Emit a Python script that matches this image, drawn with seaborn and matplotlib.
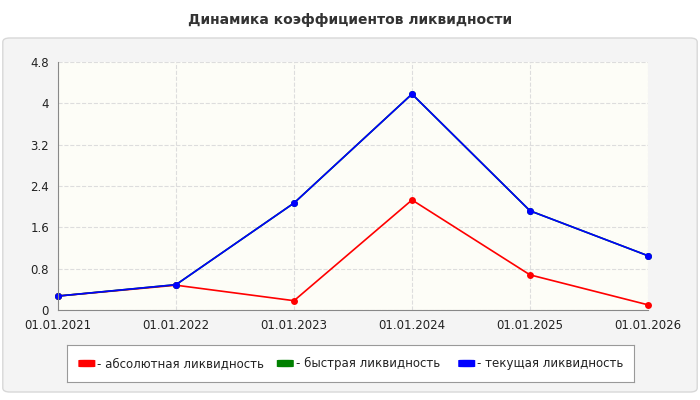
import matplotlib
matplotlib.use("Agg")
import matplotlib.pyplot as plt
import seaborn as sns
import pandas as pd
from matplotlib.patches import FancyBboxPatch

dates = ["01.01.2021", "01.01.2022", "01.01.2023", "01.01.2024", "01.01.2025", "01.01.2026"]
absolute = [0.27, 0.48, 0.18, 2.13, 0.68, 0.10]
quick = [0.27, 0.49, 2.07, 4.18, 1.92, 1.05]
current = [0.27, 0.49, 2.07, 4.18, 1.92, 1.05]
labels = ["- абсолютная ликвидность", "- быстрая ликвидность", "- текущая ликвидность"]
colors = ["#ff0000", "#008000", "#0000ff"]

sns.set_style("white")
plt.rcParams['font.family'] = ['DejaVu Sans']

df = pd.DataFrame({"x": list(range(len(dates))) * 3,
                   "v": absolute + quick + current,
                   "s": [labels[0]] * 6 + [labels[1]] * 6 + [labels[2]] * 6})

fig = plt.figure(figsize=(7, 4), dpi=100)
fig.patch.set_facecolor("white")
panel = FancyBboxPatch((0.004, 0.02), 0.992, 0.885, boxstyle="round,pad=0,rounding_size=0.01",
                       transform=fig.transFigure, facecolor="#f4f4f4", edgecolor="#d8d8d8", lw=1,
                       zorder=-10)
fig.patches.append(panel)
fig.text(0.5, 0.95, "Динамика коэффициентов ликвидности", ha="center", va="center",
         fontsize=10, fontweight="bold", color="#333333")

ax = fig.add_axes([58 / 700, 1 - 310 / 400, 590 / 700, 248 / 400])
ax.set_facecolor("#fdfdf7")
sns.lineplot(data=df, x="x", y="v", hue="s", palette=colors, marker="o", markersize=5,
             markeredgewidth=0, linewidth=1.2, ax=ax, legend=False)
ax.set_xlim(0, 5)
ax.set_ylim(0, 4.8)
ax.set_xticks(range(6))
ax.set_xticklabels(dates)
ax.set_yticks([0, 0.8, 1.6, 2.4, 3.2, 4, 4.8])
ax.set_yticklabels(["0", "0.8", "1.6", "2.4", "3.2", "4", "4.8"])
ax.tick_params(labelsize=8.5, colors="#222222", length=3)
ax.grid(True, linestyle="--", color="#dddddd", linewidth=0.8)
ax.set_xlabel("")
ax.set_ylabel("")
for s in ["top", "right"]:
    ax.spines[s].set_visible(False)
ax.spines["left"].set_color("#888888")
ax.spines["bottom"].set_color("#888888")
for line in ax.lines:
    line.set_clip_on(False)

lax = fig.add_axes([67 / 700, 1 - 382 / 400, 567 / 700, 37 / 400])
lax.set_xticks([])
lax.set_yticks([])
lax.set_facecolor("white")
for s in lax.spines.values():
    s.set_color("#999999")
for xpos, lab, c in zip([0.02, 0.37, 0.69], labels, colors):
    lax.add_patch(FancyBboxPatch((xpos, 0.4), 0.03, 0.2, boxstyle="round,pad=0,rounding_size=0.01",
                                 transform=lax.transAxes, facecolor=c, edgecolor="none"))
    lax.text(xpos + 0.033, 0.5, lab, transform=lax.transAxes, va="center", fontsize=8.5, color="#222222")

fig.savefig("out.png", dpi=100)
